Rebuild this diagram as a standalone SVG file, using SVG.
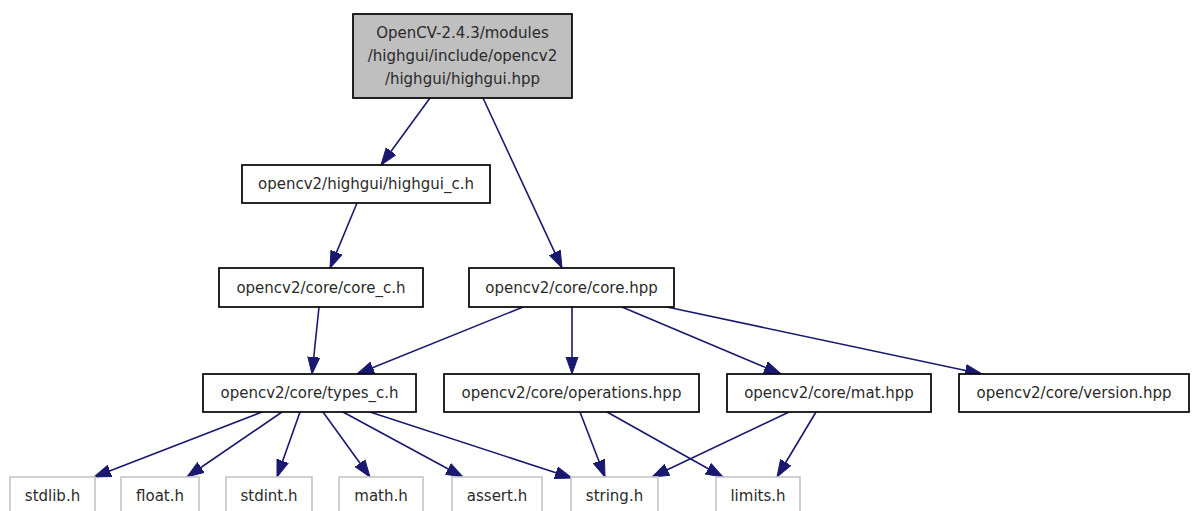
<svg xmlns="http://www.w3.org/2000/svg" width="1192" height="511" viewBox="0 0 1192 511">
<style>
.n rect{fill:#fff;stroke:#000;stroke-width:1.7}
.n.root rect{fill:#bfbfbf}
.n.ext rect{stroke:#c8c8c8}
.n text{font-family:"DejaVu Sans",sans-serif;font-size:15px;fill:#2a2a2a;text-anchor:middle}
.e line{stroke:#191970;stroke-width:1.6;fill:none;marker-end:url(#ah)}
</style>
<defs>
<marker id="ah" markerUnits="userSpaceOnUse" markerWidth="18" markerHeight="14" viewBox="0 0 18 14" refX="17" refY="7" orient="auto">
<polygon points="0,1 17,7 0,13" fill="#191970" stroke="#191970" stroke-width="1"/>
</marker>
</defs>
<rect width="1192" height="511" fill="#fff"/>
<g id="connectors" class="e">
<line x1="430" y1="98" x2="381" y2="165"/>
<line x1="483" y1="98" x2="562" y2="268"/>
<line x1="357" y1="203" x2="330" y2="268"/>
<line x1="319" y1="307" x2="312" y2="374"/>
<line x1="523" y1="307" x2="357" y2="374"/>
<line x1="572" y1="307" x2="572" y2="374"/>
<line x1="622" y1="307" x2="781" y2="374"/>
<line x1="667" y1="307" x2="982" y2="374"/>
<line x1="262" y1="412" x2="94" y2="477"/>
<line x1="282" y1="412" x2="187" y2="477"/>
<line x1="300" y1="412" x2="277" y2="477"/>
<line x1="323" y1="412" x2="370" y2="477"/>
<line x1="343" y1="412" x2="463" y2="477"/>
<line x1="370" y1="412" x2="572" y2="478"/>
<line x1="580" y1="412" x2="605" y2="477"/>
<line x1="607" y1="412" x2="723" y2="477"/>
<line x1="789" y1="412" x2="652" y2="477"/>
<line x1="816" y1="412" x2="777" y2="477"/>
</g>
<g id="node-root" class="n root">
<rect x="353" y="14" width="219" height="84"/>
<text x="462.5" y="38">OpenCV-2.4.3/modules</text>
<text x="462.5" y="61">/highgui/include/opencv2</text>
<text x="462.5" y="84">/highgui/highgui.hpp</text>
</g>
<g id="node-highgui_c" class="n">
<rect x="242" y="165" width="248" height="38"/>
<text x="366" y="189">opencv2/highgui/highgui_c.h</text>
</g>
<g id="node-core_c" class="n">
<rect x="219" y="268" width="204" height="39"/>
<text x="321" y="293">opencv2/core/core_c.h</text>
</g>
<g id="node-core" class="n">
<rect x="469" y="268" width="205" height="39"/>
<text x="571.5" y="293">opencv2/core/core.hpp</text>
</g>
<g id="node-types_c" class="n">
<rect x="203" y="374" width="213" height="38"/>
<text x="309.5" y="398">opencv2/core/types_c.h</text>
</g>
<g id="node-operations" class="n">
<rect x="444" y="374" width="255" height="38"/>
<text x="571.5" y="398">opencv2/core/operations.hpp</text>
</g>
<g id="node-mat" class="n">
<rect x="727" y="374" width="204" height="38"/>
<text x="829" y="398">opencv2/core/mat.hpp</text>
</g>
<g id="node-version" class="n">
<rect x="959" y="374" width="230" height="38"/>
<text x="1074" y="398">opencv2/core/version.hpp</text>
</g>
<g id="node-stdlib" class="n ext">
<rect x="10" y="477" width="85" height="45"/>
<text x="52.5" y="501">stdlib.h</text>
</g>
<g id="node-float" class="n ext">
<rect x="121" y="477" width="78" height="45"/>
<text x="160" y="501">float.h</text>
</g>
<g id="node-stdint" class="n ext">
<rect x="226" y="477" width="86" height="45"/>
<text x="269" y="501">stdint.h</text>
</g>
<g id="node-math" class="n ext">
<rect x="339" y="477" width="84" height="45"/>
<text x="381" y="501">math.h</text>
</g>
<g id="node-assert" class="n ext">
<rect x="452" y="477" width="90" height="45"/>
<text x="497" y="501">assert.h</text>
</g>
<g id="node-string" class="n ext">
<rect x="571" y="477" width="87" height="45"/>
<text x="614.5" y="501">string.h</text>
</g>
<g id="node-limits" class="n ext">
<rect x="716" y="477" width="84" height="45"/>
<text x="758" y="501">limits.h</text>
</g>
</svg>
